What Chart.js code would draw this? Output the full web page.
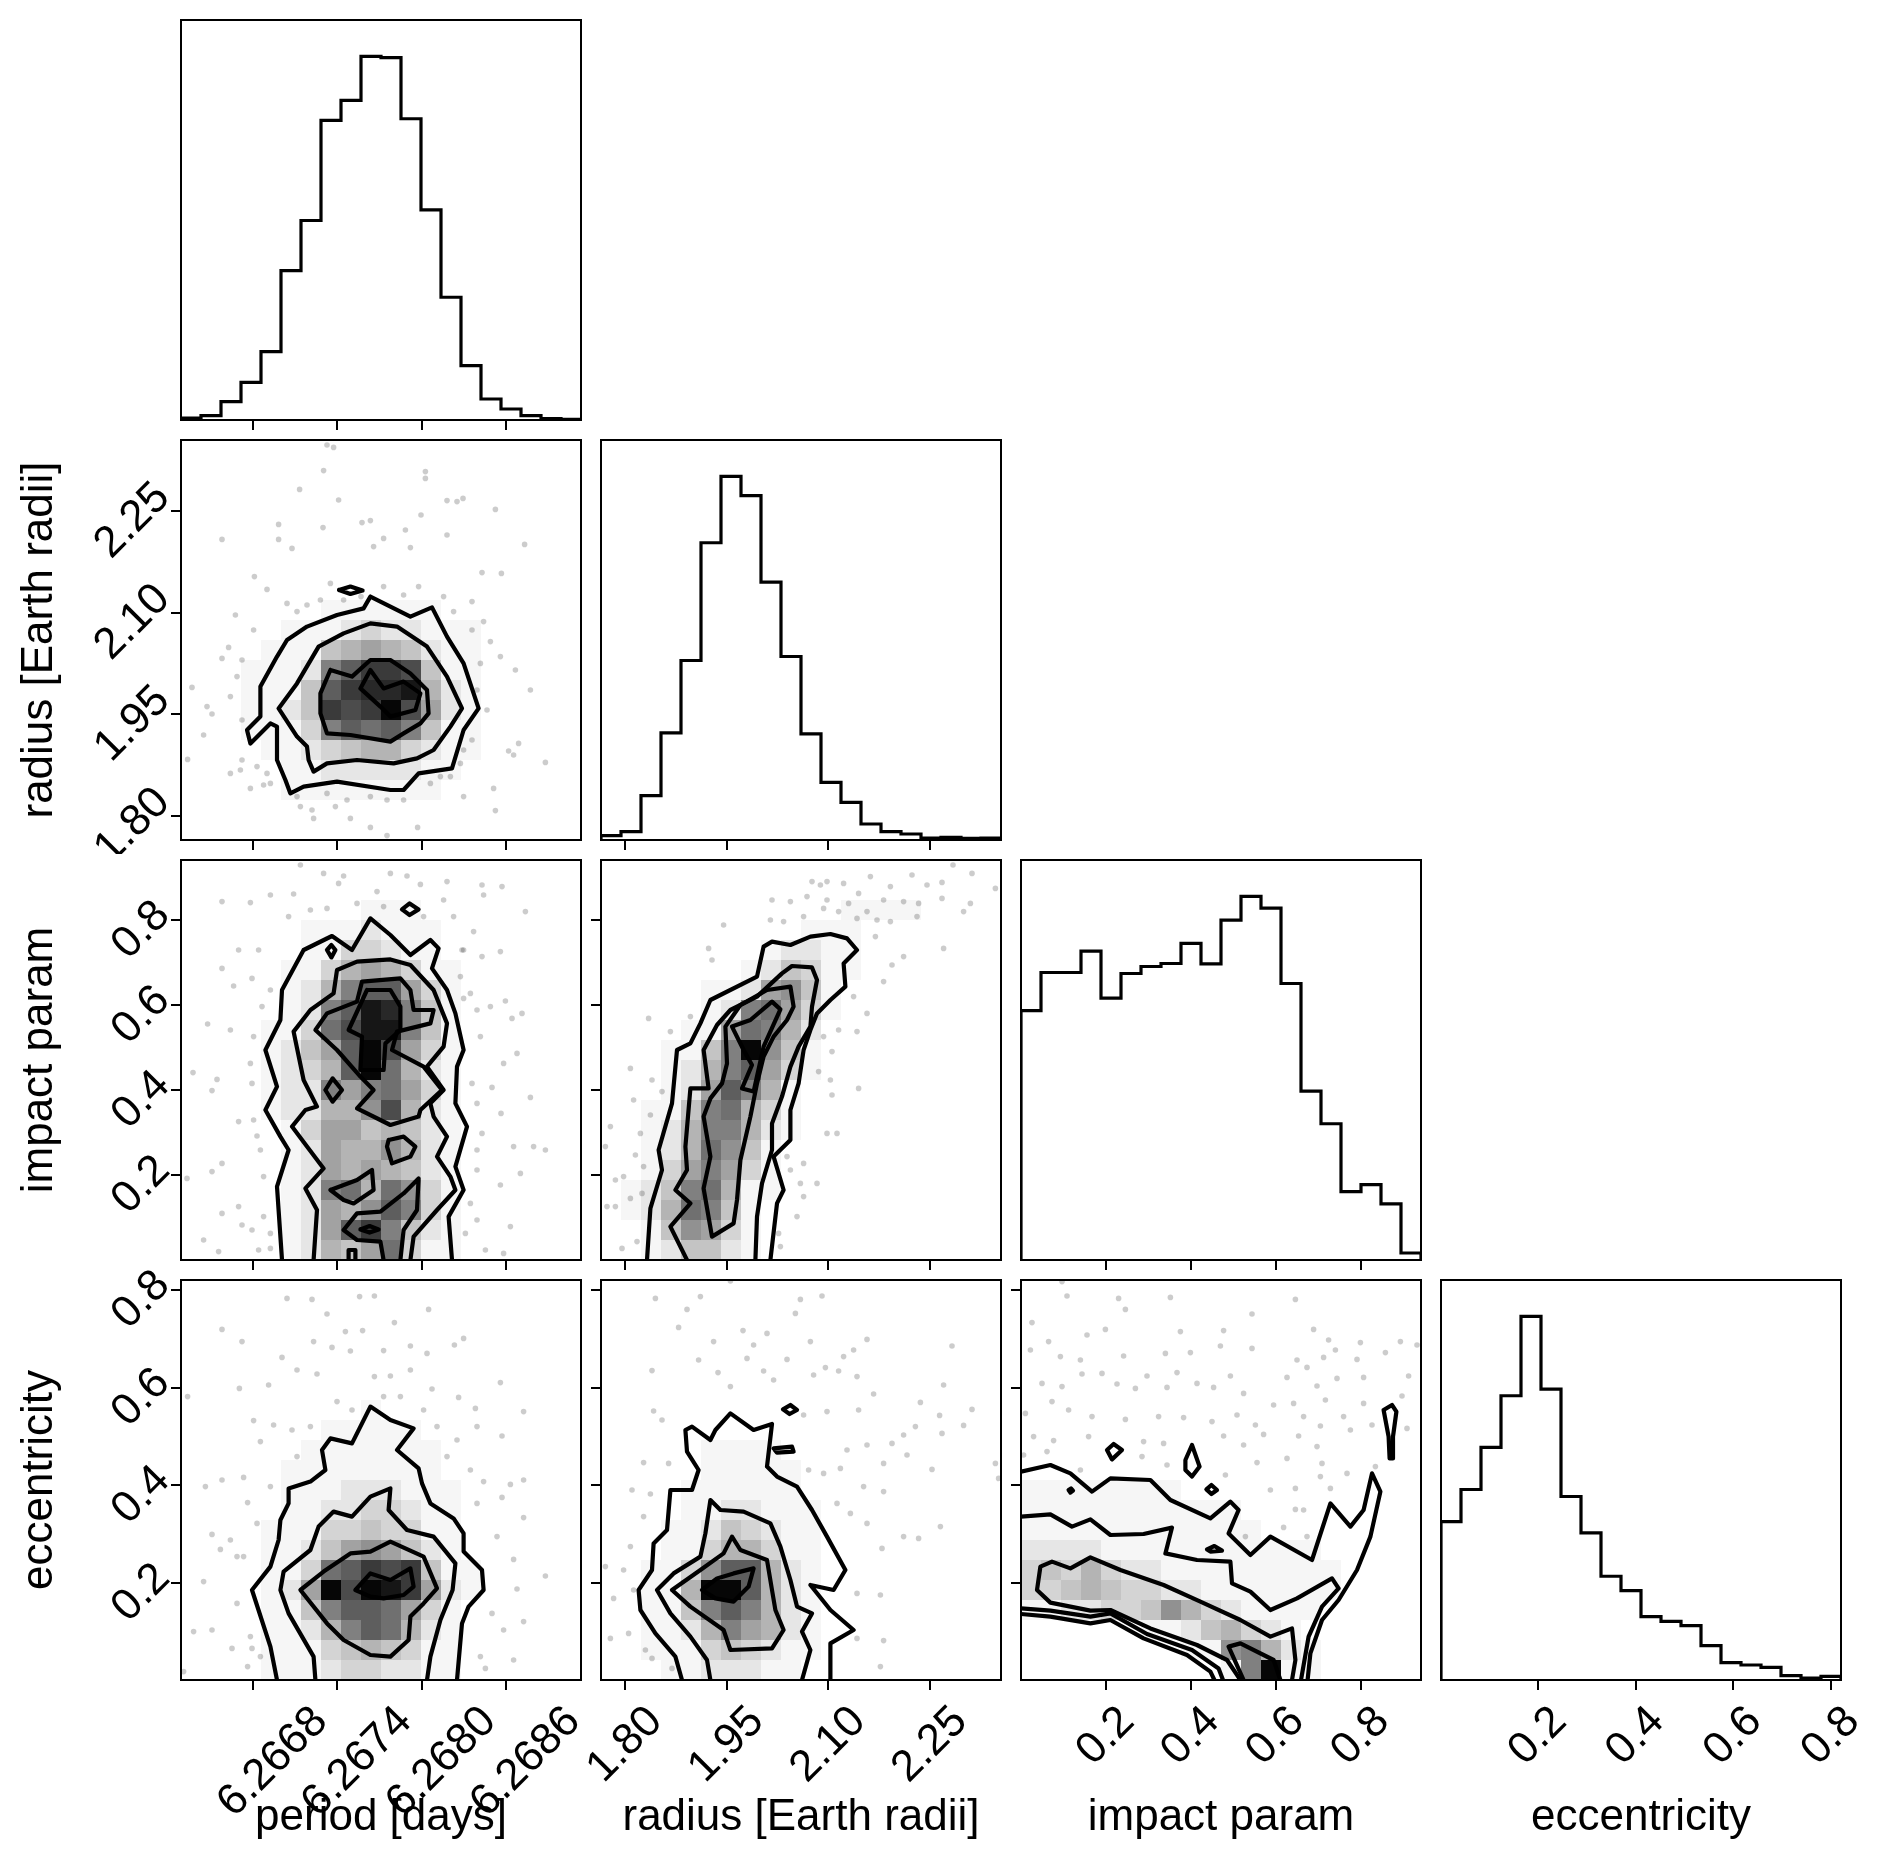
<!DOCTYPE html>
<html>
<head>
<meta charset="utf-8">
<script src="https://cdn.jsdelivr.net/npm/chart.js@4.4.0/dist/chart.umd.min.js"></script>
<style>
  html, body { margin: 0; padding: 0; background: #fff; }
  #fig { position: relative; width: 1887px; height: 1861px; overflow: hidden; background: #fff; }
  #fig canvas { position: absolute; }
</style>
</head>
<body>
<div id="fig"></div>
<script>
// parameter names, plot ranges and tick values
const names = ["period [days]", "radius [Earth radii]", "impact param", "eccentricity"];
const ranges = [[6.266288, 6.269134], [1.7645, 2.3545], [0.0, 0.942], [0.0015, 0.8205]];
const tickVals = [[6.2668, 6.2674, 6.2680, 6.2686], [1.80, 1.95, 2.10, 2.25], [0.2, 0.4, 0.6, 0.8], [0.2, 0.4, 0.6, 0.8]];
const tickDigits = [4, 2, 1, 1];

// 1d histograms (20 bins over the range)
const histPeriod = [6, 13, 55, 113, 205, 448, 598, 898, 958, 1090, 1086, 903, 630, 368, 163, 63, 33, 13, 4, 2];
const histRadius = [13, 25, 133, 321, 538, 891, 1090, 1032, 773, 550, 318, 173, 113, 48, 25, 18, 6, 8, 5, 6];
const histImpact = [747, 861, 861, 925, 784, 858, 879, 888, 948, 887, 1018, 1089, 1054, 828, 506, 408, 205, 226, 168, 21];
const histEcc = [475, 571, 697, 852, 1090, 872, 550, 441, 311, 268, 190, 176, 163, 103, 52, 45, 38, 13, 6, 11];

// 2d histograms: 20x20 density levels (hex 0-f), rows from top to bottom
const densPR = ["00000000000000000000","00000000000000000000","00000000000000000000","00000000000000000000",
  "00000000000000000000","00000000000000000000","00000000000000000000","00000000000000000000",
  "00000001111110000000","00000111232211100000","00001114565421100000","00011128accb41100000",
  "0001114acdde52100000","0001124cbcfb62100000","00011138a9a841100000","00001123455321100000",
  "00000112222211000000","00000111111110000000","00000000000000000000","00000000000000000000"];
const densPB = ["00000000000000000000","00000000000000000000","00000000011100000000","00000011121110000000",
  "00000011332110000000","00000113565311000000","000001258aa631000000","00000128aed841000000",
  "00001139bee841000000","00001246afb631000000","00001235af9521000000","00001228689631000000",
  "0000122557b521000000","00000136645421000000","00000126557521000000","00000126565421000000",
  "00000128959731000000","0000012657a831000000","00000126ac8421000000","00000125469311000000"];
const densRB = ["00000000000000000000","00000000000000000000","00000000000011110000","00000000001110000000",
  "00000000122110000000","00000001243110000000","00000112674100000000","00000128963100000000",
  "00001169852000000000","0001148f741000000000","0001258a631000000000","000126a8510000000000",
  "00114895310000000000","00125885210000000000","00125974100000000000","00136863100000000000",
  "01248951100000000000","01259841000000000000","00147631000000000000","00124421000000000000"];
const densPE = ["00000000000000000000","00000000000000000000","00000000000000000000","00000000000000000000",
  "00000000000000000000","00000000000000000000","00000000010000000000","00000001111100000000",
  "00000011111110000000","00000111111110000000","00000111222111000000","00000112233211000000",
  "00001113343311000000","00001124676421000000","00001139acbc41100000","0000126fbfec62100000",
  "00001148aa9631000000","000011258a9521000000","00001113454311000000","00001112332211000000"];
const densRE = ["00000000000000000000","00000000000000000000","00000000000000000000","00000000000000000000",
  "00000000000000000000","00000000000000000000","00000000000000000000","00000000000000000000",
  "00000111100000000000","00000111110000000000","00001111110000000000","00001122111000000000",
  "00011243211000000000","00011355311000000000","001137aa521000000000","00115ffa521000000000",
  "001148a8521000000000","00112586521000000000","00111343211000000000","00011222110000000000"];
const densBE = ["00000000000000000000","00000000000000000000","00000000000000000000","00000000000000000000",
  "00000000000000000000","00000000000000000000","00000000000000000000","00000000000000000000",
  "00000000000000000000","00000000000000000000","11111111000000000000","11111111111000000000",
  "11111111111100000000","22221111111111100000","34353221111111110000","33454332211111110000",
  "11223347532111100000","00000011245321000000","00000000117852100000","000000000018f1100000"];

// contour lines, in histogram-bin units (u, v from 0 to 20), flat pairs
const contPR = [
  [7.9,12.5, 8.47,12.67, 9.08,12.47, 8.47,12.3, 7.9,12.5],
  [9.47,12.17, 9.97,11.92, 11.47,11.17, 12.55,11.63, 13.3,10.17, 14.13,8.83, 14.88,6.58, 14.13,5.5, 13.55,3.58, 11.88,3.33, 11.13,2.5, 10.47,2.5, 7.8,2.92, 6.13,2.67, 5.47,2.33, 5.22,3.0, 4.8,4.0, 4.8,5.67, 4.47,5.83, 3.47,4.83, 3.3,5.5, 3.97,6.17, 3.97,7.67, 4.8,9.17, 5.3,10.0, 6.3,10.67, 7.8,11.25, 9.13,11.58, 9.47,12.17],
  [4.88,6.58, 5.8,7.83, 6.88,9.67, 8.13,10.33, 9.47,10.83, 10.8,10.67, 12.3,9.67, 13.3,8.17, 14.05,6.58, 13.47,5.67, 12.63,4.5, 11.8,4.08, 10.63,3.83, 8.8,4.0, 7.3,3.83, 6.63,3.42, 6.38,4.0, 6.3,4.67, 5.8,5.17, 4.88,6.58],
  [7.47,8.5, 8.55,8.17, 9.47,9.0, 10.47,9.0, 11.47,8.33, 12.3,7.5, 12.38,6.33, 11.97,5.83, 11.13,5.33, 10.47,4.92, 8.47,5.25, 7.3,5.33, 6.97,6.33, 6.97,7.33, 7.47,8.5],
  [8.97,7.58, 9.47,8.5, 10.13,7.58, 11.13,7.92, 11.97,7.33, 11.72,6.5, 10.47,6.17, 9.97,6.67, 8.97,7.58]
];
const contPB = [
  [5.05,0, 4.8,3.67, 5.38,5.5, 4.97,6.17, 4.22,7.5, 4.8,8.67, 4.22,10.5, 4.97,12.0, 5.05,13.5, 6.13,15.5, 7.55,16.2, 8.55,15.5, 9.47,17.08, 10.47,16.25, 11.47,15.25, 12.47,16.0, 12.88,15.58, 12.55,14.58, 13.3,13.5, 13.72,12.33, 14.13,10.5, 13.8,9.67, 13.72,7.83, 14.3,6.67, 13.72,4.67, 14.13,3.5, 13.38,2.17, 13.55,0],
  [11.05,17.53, 11.43,17.83, 11.88,17.53, 11.43,17.25, 11.05,17.53],
  [7.3,15.5, 7.52,15.75, 7.72,15.5, 7.52,15.13, 7.3,15.5],
  [6.63,0, 6.8,2.5, 6.22,3.58, 7.13,4.58, 6.3,5.67, 5.55,6.67, 6.22,7.5, 6.8,7.67, 6.13,9.0, 5.63,11.42, 6.47,12.5, 7.63,13.33, 7.8,14.5, 8.8,14.92, 10.47,15.03, 11.47,14.75, 12.63,13.5, 13.3,11.83, 13.13,10.67, 12.3,9.67, 13.13,8.5, 12.47,7.83, 12.63,7.17, 13.3,6.17, 12.8,5.17, 13.47,4.17, 13.72,3.5, 12.8,2.5, 11.63,1.17, 11.47,0],
  [9.05,13.92, 10.97,14.08, 11.47,13.5, 11.63,12.5, 12.63,12.5, 12.47,11.83, 10.8,11.42, 10.55,10.5, 12.13,9.67, 13.05,8.5, 11.97,7.5, 11.88,7.17, 10.47,6.75, 8.8,7.58, 9.63,8.5, 8.97,9.17, 7.8,10.5, 6.72,11.5, 7.3,12.33, 8.8,12.92, 9.05,13.92],
  [7.22,8.5, 7.58,9.08, 8.05,8.5, 7.58,7.92, 7.22,8.5],
  [10.38,6.0, 11.13,6.17, 11.72,5.67, 11.47,5.17, 10.55,4.83, 10.3,5.67, 10.38,6.0],
  [7.47,3.5, 8.8,4.0, 9.55,4.5, 9.63,3.5, 8.63,2.83, 8.13,3.0, 7.47,3.5],
  [10.13,0, 9.97,0.92, 8.8,1.0, 8.13,1.5, 8.8,2.33, 9.97,2.42, 11.13,3.33, 11.88,4.08, 11.8,2.5, 11.13,1.5, 10.97,0],
  [9.3,13.5, 10.47,13.5, 10.97,12.67, 10.97,11.5, 10.22,10.83, 10.13,9.5, 8.97,9.5, 9.05,11.17, 8.38,11.5, 9.3,13.5],
  [8.97,1.53, 9.43,1.7, 9.88,1.53, 9.43,1.37, 8.97,1.53],
  [8.38,0, 8.38,0.5, 8.72,0.5, 8.72,0]
];
const contRB = [
  [2.3,0, 2.47,2.58, 3.05,4.5, 2.88,5.5, 3.55,7.83, 3.8,10.5, 4.47,10.83, 4.97,11.83, 5.47,13.0, 7.8,14.17, 8.13,15.67, 8.55,15.92, 9.47,15.75, 10.47,16.17, 11.47,16.3, 12.3,16.08, 12.8,15.5, 12.13,14.83, 12.22,13.67, 11.47,13.0, 10.8,12.33, 10.47,11.5, 10.13,10.5, 9.88,8.83, 9.47,7.5, 9.47,6.0, 8.63,5.17, 9.13,3.5, 8.8,2.83, 8.47,0],
  [4.3,0, 3.47,1.67, 4.47,2.83, 3.72,3.5, 4.3,4.5, 4.22,5.67, 4.47,8.58, 5.38,8.58, 5.13,10.5, 5.8,11.75, 6.47,12.5, 7.8,13.17, 9.05,14.33, 9.55,14.7, 10.55,14.63, 10.8,14.0, 10.55,12.67, 10.47,11.67, 9.88,10.67, 9.47,9.67, 9.05,8.17, 8.55,6.83, 8.55,5.5, 8.05,3.83, 7.8,2.17, 7.72,0],
  [5.55,1.17, 5.13,3.58, 5.47,5.17, 5.13,7.17, 5.47,8.08, 6.05,8.83, 6.3,9.83, 6.22,11.67, 6.97,12.75, 8.3,13.5, 9.47,13.67, 9.63,12.67, 9.3,12.0, 8.63,11.17, 8.13,10.17, 7.8,8.83, 7.47,7.17, 6.97,5.0, 6.8,3.0, 6.63,1.83, 5.55,1.17],
  [6.55,11.67, 7.47,12.0, 8.55,12.92, 8.97,12.53, 8.13,10.67, 7.63,8.42, 7.05,8.58, 7.55,9.75, 7.13,10.5, 6.55,11.67]
];
const contPE = [
  [4.8,0, 4.47,1.67, 3.55,4.5, 4.47,5.67, 4.88,7.0, 4.97,8.0, 5.38,8.83, 5.38,9.58, 6.47,9.92, 7.22,10.5, 7.05,11.5, 7.47,12.08, 8.55,11.83, 9.47,13.67, 10.47,13.0, 11.63,12.58, 10.8,11.5, 11.88,10.58, 12.05,9.83, 12.47,8.83, 13.63,8.08, 14.13,7.33, 14.13,6.42, 15.05,5.5, 15.13,4.5, 14.38,3.67, 14.05,2.83, 13.8,0],
  [6.72,0, 6.63,1.17, 5.38,3.33, 4.97,4.5, 5.13,5.42, 6.47,6.5, 6.88,7.67, 7.63,8.42, 8.55,8.17, 9.47,9.17, 10.47,9.58, 10.38,8.5, 11.3,7.5, 12.63,7.17, 13.72,5.83, 13.58,4.5, 12.97,3.0, 12.47,1.17, 12.3,0],
  [5.97,4.5, 7.13,5.42, 8.47,6.33, 9.47,6.42, 10.47,6.92, 12.13,6.17, 12.8,4.58, 12.13,3.83, 11.47,3.17, 11.38,2.0, 10.47,1.17, 9.47,1.25, 8.13,2.0, 7.3,2.83, 5.97,4.5],
  [8.72,4.5, 9.47,5.33, 10.47,5.0, 11.47,5.58, 11.63,4.67, 11.13,4.25, 10.13,4.08, 9.47,4.17, 8.72,4.5]
];
const contRE = [
  [4.05,0, 3.72,1.17, 2.72,2.33, 1.97,3.5, 1.88,4.5, 2.55,5.5, 2.63,6.83, 3.3,7.5, 3.47,9.5, 4.55,9.5, 4.88,10.5, 4.3,11.42, 4.22,12.5, 4.55,12.67, 5.47,12.0, 5.72,12.5, 6.47,13.33, 7.63,12.5, 8.55,12.8, 8.3,10.67, 8.8,10.17, 9.8,9.67, 10.55,8.5, 11.3,7.17, 12.22,5.5, 11.63,4.5, 10.47,4.75, 11.47,3.5, 12.63,2.5, 11.47,1.83, 11.47,0],
  [9.1,13.53, 9.47,13.75, 9.8,13.5, 9.43,13.3, 9.1,13.53],
  [8.63,11.58, 9.55,11.67, 9.63,11.42, 8.8,11.37, 8.63,11.58],
  [5.47,0, 5.3,1.0, 4.47,2.17, 3.47,3.33, 2.8,4.5, 3.63,5.33, 4.97,6.17, 5.22,7.33, 5.47,9.0, 5.97,8.5, 7.13,8.42, 8.47,7.83, 8.97,6.67, 9.47,5.0, 9.8,3.67, 10.55,3.33, 10.05,2.42, 10.47,1.5, 10.05,0],
  [3.55,4.5, 4.97,5.5, 6.13,6.33, 6.55,7.17, 6.97,6.5, 8.3,6.0, 8.55,4.5, 8.72,3.5, 9.13,2.5, 8.55,1.58, 6.47,1.5, 6.13,2.5, 4.47,3.67, 3.55,4.5],
  [5.05,4.5, 5.8,5.08, 6.63,5.33, 7.63,5.58, 7.38,4.67, 6.63,3.92, 5.72,4.08, 5.05,4.5]
];
const contBE = [
  [0,10.42, 1.47,10.75, 2.47,10.33, 3.55,9.42, 4.47,10.08, 6.47,10.0, 7.47,9.0, 9.47,8.08, 10.47,8.92, 10.88,8.5, 10.38,7.33, 11.47,6.25, 12.47,7.17, 14.55,6.0, 15.47,8.83, 16.47,7.67, 17.13,8.5, 17.55,10.33, 17.97,9.42, 17.47,7.17, 16.8,5.5, 15.88,4.0, 15.05,3.0, 14.47,1.33, 14.33,0],
  [0,8.17, 1.47,8.28, 2.55,7.67, 3.47,8.03, 4.47,7.25, 6.13,7.3, 7.55,7.62, 7.22,6.33, 8.8,6.0, 10.47,5.92, 10.55,4.83, 11.47,4.42, 12.47,3.5, 13.8,4.08, 15.55,5.08, 15.88,4.58, 15.05,3.67, 14.38,2.17, 14.0,0],
  [10.97,0, 10.3,1.0, 8.8,1.75, 6.47,2.58, 4.47,3.5, 3.47,3.47, 1.47,3.87, 0.8,4.5, 0.97,5.67, 1.55,5.92, 2.47,5.58, 3.47,6.13, 4.97,5.5, 7.13,4.75, 8.97,3.92, 10.97,3.0, 12.47,2.17, 13.55,2.58, 13.72,1.0, 13.55,0],
  [0,3.3, 1.47,3.17, 3.47,2.83, 4.47,3.0, 6.13,2.08, 8.3,1.25, 9.47,0.42, 9.67,0],
  [0,3.58, 1.47,3.47, 3.47,3.17, 4.47,3.33, 6.3,2.3, 8.55,1.5, 9.88,0.58, 10.1,0],
  [11.13,0, 10.38,1.67, 10.97,1.83, 12.63,1.0, 12.97,0],
  [4.3,11.5, 4.63,11.8, 5.05,11.5, 4.55,11.03, 4.3,11.5],
  [8.22,11.0, 8.55,11.75, 8.93,10.67, 8.55,10.17, 8.22,10.5, 8.22,11.0],
  [9.27,9.53, 9.52,9.75, 9.8,9.5, 9.52,9.3, 9.27,9.53],
  [9.3,6.53, 9.67,6.7, 10.05,6.47, 9.47,6.42, 9.3,6.53],
  [18.13,13.5, 18.55,13.75, 18.77,13.42, 18.6,12.17, 18.6,11.08, 18.43,11.08, 18.38,12.17, 18.13,13.5],
  [2.38,9.5, 2.5,9.58, 2.6,9.47, 2.47,9.37, 2.38,9.5]
];

// individual samples outside the contours, in histogram-bin units
const ptsPR = [7.3,19.75, 7.63,19.63, 7.13,18.47, 12.22,18.42, 12.22,18.08, 5.93,17.53, 7.88,17.0, 13.3,16.97, 13.8,16.92, 14.1,17.08, 15.72,16.53, 12.0,16.25, 9.05,15.87, 9.47,15.97, 4.88,15.78, 7.1,15.62, 11.22,15.5, 2.05,15.03, 4.88,15.03, 10.13,15.08, 13.3,15.25, 17.18,14.78, 5.55,14.58, 9.63,14.67, 11.47,14.62, 3.67,13.17, 4.3,12.53, 15.05,13.37, 16.02,13.33, 14.55,11.92, 15.13,10.92, 2.72,11.25, 2.38,9.63, 15.47,9.92, 2.05,9.08, 16.72,8.5, 0.55,7.63, 15.97,9.17, 1.3,6.67, 17.47,7.5, 1.55,6.3, 1.13,5.25, 16.88,4.83, 16.38,4.45, 2.47,3.33, 2.97,3.5, 0.33,4.03, 3.47,2.58, 4.13,2.75, 15.63,2.58, 18.22,3.88, 5.97,1.67, 6.55,1.5, 7.72,1.67, 8.47,1.08, 10.3,0.22, 11.83,0.63, 9.47,0.63, 14.13,2.17, 15.72,1.47, 6.63,1.08, 16.63,4.25, 9.47,2.17, 11.13,2.0, 12.97,3.17, 4.3,3.33, 14.13,4.5,
  5.3,11.83, 5.8,11.42, 6.3,11.75, 6.97,12.0, 7.47,12.83, 8.13,12.0, 9.0,12.17, 10.13,12.67, 11.13,12.25, 11.88,12.67, 13.13,12.17, 13.63,11.42, 14.55,10.5, 14.97,8.83, 14.8,7.5, 15.3,6.5, 14.55,5.0, 13.97,3.83, 3.63,10.5, 3.05,9.0, 2.8,8.17, 2.47,7.17, 3.05,6.0, 3.05,4.0, 3.8,3.67, 4.47,2.83, 5.8,2.17, 7.3,2.33, 8.3,2.0, 10.3,2.0, 12.47,2.83, 13.47,3.17];
const ptsPB = [2.05,17.92, 3.47,17.87, 4.47,18.25, 5.63,18.3, 5.97,19.75, 7.13,19.33, 8.13,19.2, 10.47,19.33, 11.3,19.2, 11.97,18.78, 13.3,18.92, 15.05,18.75, 16.05,18.67, 17.22,17.42, 15.13,18.25, 2.88,15.5, 3.88,15.5, 2.05,14.58, 2.63,13.7, 3.55,14.08, 14.13,15.5, 14.63,16.42, 15.05,15.17, 15.97,15.42, 14.13,13.08, 15.47,12.67, 16.22,12.95, 17.05,12.33, 16.55,12.08, 1.33,11.8, 2.47,11.5, 0.6,9.37, 3.47,9.83, 1.8,9.03, 1.55,8.47, 16.8,10.33, 16.13,9.83, 15.55,8.63, 17.47,8.13, 16.0,7.33, 2.88,6.92, 3.63,7.0, 3.8,6.2, 14.8,5.5, 16.63,5.67, 17.63,5.67, 18.22,5.5, 2.05,4.83, 1.55,4.42, 0.3,4.08, 16.97,4.33, 15.97,3.75, 2.88,2.67, 3.05,1.75, 3.55,1.5, 2.05,2.33, 1.13,1.0, 1.88,0.42, 14.8,2.0, 14.22,1.33, 15.22,0.5, 16.47,1.67, 16.13,0.33, 3.88,0.5, 4.47,0.58,
  9.8,18.42, 10.13,17.67, 8.8,17.83, 7.3,17.58, 7.88,18.83, 12.13,17.17, 13.13,18.0, 13.63,17.17, 14.05,15.5, 13.97,14.17, 14.47,13.33, 14.8,12.5, 14.97,11.17, 14.55,8.83, 14.8,7.83, 15.05,6.33, 14.8,4.5, 14.47,2.83, 4.47,13.5, 4.05,12.67, 3.63,11.17, 3.55,8.83, 3.97,5.5, 4.13,4.17, 4.13,2.17, 4.47,1.33, 5.38,17.17, 6.47,17.5];
const ptsRB = [10.55,18.92, 11.3,18.92, 10.97,18.75, 12.13,18.83, 13.47,19.17, 14.47,18.67, 15.55,19.25, 16.3,18.75, 17.05,18.88, 17.6,19.75, 18.55,19.33, 19.72,18.58, 8.55,18.0, 9.47,17.92, 10.3,18.17, 11.3,18.0, 12.38,17.83, 12.88,18.33, 13.3,17.42, 14.13,18.0, 15.13,17.92, 15.88,17.83, 17.05,18.08, 18.47,17.83, 18.13,17.42, 8.47,17.0, 9.13,16.92, 10.13,17.17, 11.13,17.58, 11.88,17.42, 12.8,17.08, 13.8,17.0, 14.47,16.92, 15.8,17.17, 17.13,15.58, 15.13,15.17, 13.72,16.17, 14.13,13.92, 14.55,14.75, 12.63,13.17, 13.3,12.33, 12.8,11.42, 11.88,11.5, 11.13,11.17, 11.55,10.42, 10.88,9.42, 11.47,9.0, 11.55,8.25, 11.3,6.33, 11.8,6.33, 12.88,8.58, 6.13,16.75, 5.38,15.58, 5.55,15.0, 4.47,12.17, 3.47,11.42, 2.38,12.08, 2.55,9.0, 3.05,8.42, 1.47,9.58, 1.63,8.0, 2.47,7.25, 1.97,6.33, 0.47,6.67, 0.22,5.67, 1.72,5.25, 2.13,4.67, 1.13,4.17, 0.72,4.0, 2.05,3.33, 0.3,2.67, 0.72,2.67, 1.47,3.08, 1.05,0.58, 1.8,0.92, 8.88,1.33, 8.97,0.67, 9.8,2.17, 10.13,3.17, 10.8,3.83, 9.47,4.5, 9.3,5.17, 10.13,4.83, 9.97,3.83];
const ptsPE = [5.3,19.08, 6.55,19.03, 8.93,19.17, 9.67,19.2, 12.38,18.53, 7.3,18.3, 10.67,17.87, 2.05,17.53, 3.05,16.92, 8.22,17.42, 9.08,17.47, 6.63,16.92, 7.55,16.63, 8.47,16.45, 10.13,16.47, 11.47,16.7, 12.3,16.33, 13.67,16.75, 14.13,17.08, 5.05,16.13, 5.8,15.5, 6.8,15.3, 9.67,15.17, 10.47,15.2, 11.47,15.5, 10.97,14.17, 12.55,14.55, 13.88,14.13, 15.97,14.87, 0.33,14.17, 2.92,14.58, 4.38,14.75, 17.13,13.42, 14.72,13.58, 14.8,12.67, 13.8,12.0, 16.05,12.2, 3.63,12.97, 5.55,12.5, 4.63,12.75, 3.97,11.92, 2.05,10.0, 3.13,10.13, 1.22,9.67, 3.33,8.87, 1.55,7.28, 2.47,7.0, 1.97,6.53, 2.8,6.17, 1.13,4.92, 16.47,9.78, 17.13,10.0, 15.13,9.92, 16.05,9.13, 17.13,8.12, 16.63,6.03, 18.22,5.2, 16.8,4.55, 16.13,2.5, 15.55,3.33, 17.13,2.92, 0.63,2.42, 1.55,2.5, 2.55,1.58, 3.55,1.58, 3.97,1.17, 3.33,0.67, 0.13,0.42, 14.97,1.17, 15.22,0.58, 16.63,1.0,
  7.8,13.92, 8.55,13.5, 10.13,14.17, 12.13,13.5, 12.8,12.67, 13.3,11.17, 14.47,10.5, 14.8,8.83, 15.8,7.17, 6.47,12.67, 5.8,11.17, 4.47,9.67, 3.8,7.83, 3.13,6.17, 2.8,3.83, 3.47,2.17];
const ptsRE = [6.47,19.95, 2.72,19.08, 4.97,19.17, 4.3,18.53, 9.97,19.03, 11.05,19.2, 3.88,17.63, 7.1,17.47, 8.3,17.33, 9.72,18.33, 5.63,16.92, 7.63,16.75, 10.47,16.92, 12.63,16.5, 13.3,17.03, 17.55,16.7, 4.88,16.0, 7.3,16.08, 9.3,16.03, 12.13,16.17, 2.55,15.47, 5.85,15.37, 6.47,14.67, 8.13,15.45, 8.63,15.0, 10.63,15.25, 11.22,15.62, 11.88,15.45, 12.8,15.17, 17.13,14.75, 13.63,14.3, 15.97,13.88, 18.55,13.53, 12.88,13.5, 11.3,13.42, 10.13,13.25, 16.93,13.23, 15.13,12.25, 15.72,12.67, 17.05,12.33, 18.13,12.73, 3.05,13.0, 2.63,13.45, 2.13,10.87, 3.38,10.83, 14.55,11.83, 13.3,11.75, 12.3,11.5, 15.3,11.25, 16.55,10.53, 19.72,10.83, 19.88,10.08, 10.38,10.5, 11.13,10.33, 11.97,10.58, 14.13,10.83, 14.13,9.42, 13.13,9.67, 11.8,8.83, 12.47,8.33, 13.3,7.83, 14.05,6.58, 15.13,7.17, 15.88,7.08, 16.97,7.67, 1.55,9.5, 2.47,9.3, 2.13,8.17, 1.47,6.67, 1.13,5.5, 0.22,5.67, 0.63,4.08, 1.63,4.5, 0.47,2.08, 1.38,2.33, 2.22,1.5, 2.55,1.08, 3.55,0.58, 12.8,4.33, 13.97,4.25, 14.13,1.97, 13.97,0.67, 12.8,2.08];
const ptsBE = [2.05,19.92, 4.88,19.08, 5.22,18.53, 7.47,19.13, 2.3,19.2, 7.97,17.42, 10.13,17.47, 11.55,18.3, 13.72,19.03, 14.63,17.53, 15.38,17.0, 16.97,16.87, 18.22,16.37, 18.97,16.92, 19.8,16.75, 0.55,17.87, 1.38,16.92, 3.3,17.25, 4.22,17.53, 0.47,16.5, 1.97,16.17, 2.97,16.0, 5.13,16.2, 7.22,16.33, 8.47,16.37, 9.97,16.7, 11.55,16.58, 13.8,16.0, 14.3,15.63, 15.13,16.13, 15.72,16.5, 16.8,16.03, 4.05,15.33, 3.05,15.3, 4.8,14.8, 6.3,15.2, 7.8,15.37, 10.47,15.2, 13.3,15.13, 14.8,14.7, 15.8,15.08, 17.13,15.13, 19.38,15.2, 1.05,14.83, 2.05,14.67, 5.72,14.58, 7.3,14.63, 8.8,14.83, 9.63,14.63, 11.13,14.33, 12.63,13.75, 13.63,13.83, 15.22,14.0, 17.13,13.83, 19.05,14.2, 0.22,13.33, 1.55,13.92, 2.38,13.5, 3.55,13.17, 5.22,13.03, 6.88,13.17, 8.13,13.12, 9.55,12.92, 10.8,13.25, 11.72,12.75, 14.13,13.17, 14.97,12.7, 16.13,13.17, 17.55,12.75, 19.3,12.58, 0.63,12.17, 1.63,11.97, 3.38,12.17, 6.13,11.92, 7.13,11.83, 10.13,12.2, 12.13,12.28, 13.88,12.2, 14.8,11.67, 16.47,12.5, 17.72,10.67, 0.13,11.25, 1.3,11.42, 2.97,10.5, 6.05,11.17, 7.3,10.75, 11.13,11.75, 11.8,10.87, 13.3,11.08, 15.05,10.83, 16.3,10.33, 10.22,10.25, 12.47,9.5, 13.72,9.58, 14.13,8.5, 15.47,9.58, 11.22,7.17, 13.72,8.53, 13.13,7.63, 14.3,7.17, 14.97,10.17];

// ---------------------------------------------------------------
const FAMILY = '"Liberation Sans", Arial, Helvetica, sans-serif';
const TICK_SIZE = 44, TITLE_SIZE = 44;
Chart.defaults.font.family = FAMILY;
Chart.defaults.color = '#000';

const PANEL = 400;
const colLeft = [181, 601, 1021, 1441];
const rowTop = [20, 440, 860, 1280];
// grey for each density level
const greys = [255, 246, 230, 212, 196, 180, 162, 145, 128, 112, 94, 76, 58, 40, 22, 6];
// extra sideways nudge of the rotated x tick labels (long labels sit right of the tick)
const xLabelNudge = [20, 0, 0, 0];
const fig = document.getElementById('fig');

const meas = document.createElement('canvas').getContext('2d');
meas.font = TICK_SIZE + 'px ' + FAMILY;
function labelWidth(k) {
  return Math.max(...tickVals[k].map(v => meas.measureText(v.toFixed(tickDigits[k])).width));
}

function toData(k, u) { const r = ranges[k]; return r[0] + (r[1] - r[0]) * u / 20; }
function toPoints(flat, xi, yi) {
  const out = [];
  for (let i = 0; i < flat.length; i += 2) out.push({ x: toData(xi, flat[i]), y: toData(yi, flat[i + 1]) });
  return out;
}

function axis(k, horiz, withLabels, size) {
  const L = labelWidth(k);
  return {
    type: 'linear', position: horiz ? 'bottom' : 'left',
    min: ranges[k][0], max: ranges[k][1], bounds: 'data',
    afterBuildTicks: s => { s.ticks = tickVals[k].map(v => ({ value: v })); },
    afterFit: s => {
      if (horiz) s.height = size; else s.width = size;
      s.paddingLeft = s.paddingRight = s.paddingTop = s.paddingBottom = 0;
    },
    border: { display: false },
    grid: { drawOnChartArea: false, drawTicks: true, tickLength: 10, lineWidth: 2, color: '#000' },
    ticks: {
      display: withLabels, autoSkip: false, minRotation: 45, maxRotation: 45,
      padding: horiz ? 6 : 8,
      labelOffset: horiz ? 0.354 * L + xLabelNudge[k] : -0.354 * L + 10,
      font: { size: TICK_SIZE }, color: '#000',
      callback: v => Number(v).toFixed(tickDigits[k])
    },
    title: { display: withLabels, text: names[k], font: { size: TITLE_SIZE }, color: '#000', padding: 0 }
  };
}

// black box round each panel
const framePlugin = {
  id: 'frame',
  afterDraw(chart) {
    const a = chart.chartArea, ctx = chart.ctx;
    ctx.save();
    ctx.strokeStyle = '#000'; ctx.lineWidth = 2;
    ctx.strokeRect(a.left, a.top, a.right - a.left, a.bottom - a.top);
    ctx.restore();
  }
};

// grey 2d-histogram cells drawn through the chart scales
function cellPlugin(rows, xi, yi) {
  return {
    id: 'cells',
    beforeDatasetsDraw(chart) {
      const { ctx, scales: { x, y } } = chart;
      ctx.save();
      rows.forEach((row, r) => {
        for (let c = 0; c < row.length; c++) {
          const d = parseInt(row[c], 16);
          if (!d) continue;
          const x0 = Math.round(x.getPixelForValue(toData(xi, c)));
          const x1 = Math.round(x.getPixelForValue(toData(xi, c + 1)));
          const y0 = Math.round(y.getPixelForValue(toData(yi, 20 - r)));
          const y1 = Math.round(y.getPixelForValue(toData(yi, 19 - r)));
          const g = greys[d];
          ctx.fillStyle = 'rgb(' + g + ',' + g + ',' + g + ')';
          ctx.fillRect(x0, y0, x1 - x0, y1 - y0);
        }
      });
      ctx.restore();
    }
  };
}

function makePanel(row, col, datasets, yScale, plugins) {
  const leftSpace = col === 0 ? 181 : 20;
  const bottomSpace = row === 3 ? 181 : 14;
  const topSpace = 44;
  const rightSpace = row === 3 ? 46 : 6;
  const isHist = row === col;
  const yW = isHist ? 0 : (col === 0 ? 167.4 : 12);
  const xH = row === 3 ? 164 : 12;
  const canvas = document.createElement('canvas');
  canvas.width = leftSpace + PANEL + rightSpace;
  canvas.height = topSpace + PANEL + bottomSpace;
  canvas.style.left = (colLeft[col] - leftSpace) + 'px';
  canvas.style.top = (rowTop[row] - topSpace) + 'px';
  fig.appendChild(canvas);
  new Chart(canvas.getContext('2d'), {
    type: 'scatter',
    data: { datasets: datasets },
    options: {
      responsive: false, animation: false, devicePixelRatio: 1,
      layout: { padding: { left: leftSpace - yW, right: rightSpace, top: topSpace, bottom: bottomSpace - xH } },
      plugins: { legend: { display: false }, tooltip: { enabled: false } },
      scales: { x: axis(col, true, row === 3, xH), y: yScale }
    },
    plugins: [framePlugin].concat(plugins)
  });
}

// diagonal: histograms
const hists = [histPeriod, histRadius, histImpact, histEcc];
hists.forEach((counts, k) => {
  const [a, b] = ranges[k];
  const w = (b - a) / counts.length;
  const pts = [{ x: a, y: 0 }];
  counts.forEach((c, i) => { pts.push({ x: a + i * w, y: c }, { x: a + (i + 1) * w, y: c }); });
  pts.push({ x: b, y: 0 });
  makePanel(k, k, [{
    data: pts, showLine: true, pointRadius: 0, borderColor: '#000', borderWidth: 3.2,
    borderJoinStyle: 'miter', tension: 0, fill: false
  }], { display: false, min: 0, max: 1.1 * Math.max(...counts) }, []);
});

// lower triangle: 2d histograms, contours and samples
const pairs = [
  { row: 1, col: 0, dens: densPR, cont: contPR, pts: ptsPR },
  { row: 2, col: 0, dens: densPB, cont: contPB, pts: ptsPB },
  { row: 2, col: 1, dens: densRB, cont: contRB, pts: ptsRB },
  { row: 3, col: 0, dens: densPE, cont: contPE, pts: ptsPE },
  { row: 3, col: 1, dens: densRE, cont: contRE, pts: ptsRE },
  { row: 3, col: 2, dens: densBE, cont: contBE, pts: ptsBE }
];
pairs.forEach(p => {
  const xi = p.col, yi = p.row;
  const ds = p.cont.map(line => ({
    data: toPoints(line, xi, yi), showLine: true, pointRadius: 0, borderColor: '#000',
    borderWidth: 4.2, borderJoinStyle: 'round', borderCapStyle: 'round', tension: 0, fill: false
  }));
  ds.push({
    data: toPoints(p.pts, xi, yi), showLine: false, pointRadius: 2.8, pointBorderWidth: 0,
    pointBackgroundColor: 'rgba(0,0,0,0.2)'
  });
  makePanel(p.row, p.col, ds, axis(yi, false, p.col === 0, p.col === 0 ? 167.4 : 12), [cellPlugin(p.dens, xi, yi)]);
});
</script>
</body>
</html>
